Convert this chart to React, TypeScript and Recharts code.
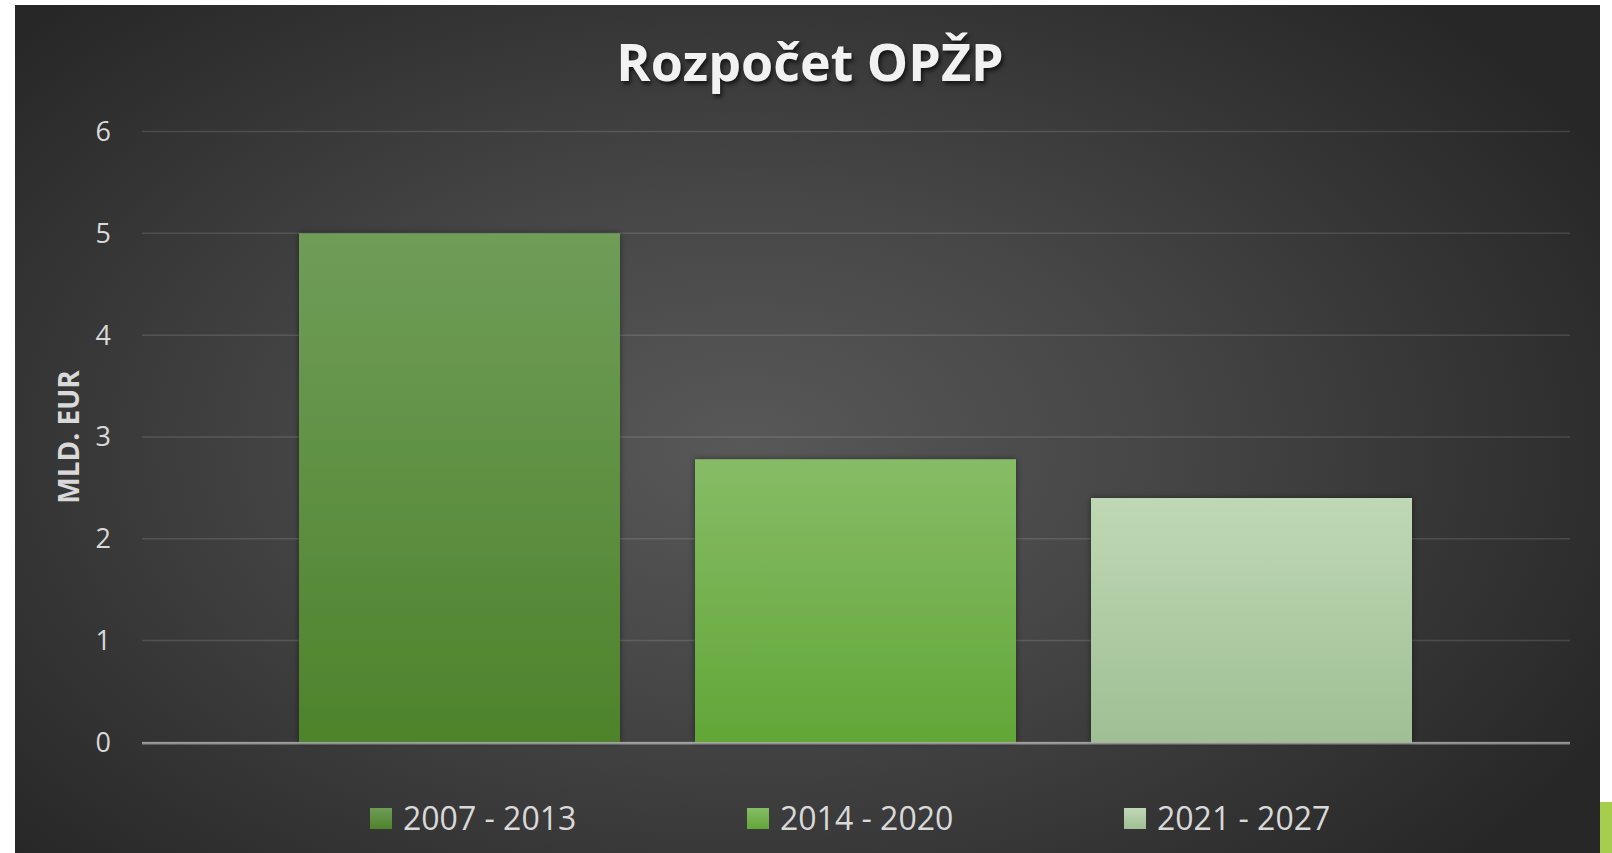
import React from 'react';
import {
  BarChart,
  Bar,
  XAxis,
  YAxis,
  CartesianGrid,
  Legend,
  Label,
  ReferenceLine,
} from 'recharts';

const title = 'Rozpočet OPŽP';
const axisTitle = 'MLD. EUR';
const periods = ['2007 - 2013', '2014 - 2020', '2021 - 2027'];
const budgets = [5, 2.78, 2.4];
const yTicks = [0, 1, 2, 3, 4, 5, 6];
const seriesKeys = ['p1', 'p2', 'p3'];

// top / bottom colour of each bar's gradient
const gradTop = ['#6f9d58', '#86bc66', '#bfd8b4'];
const gradBottom = ['#4e832b', '#62a637', '#9fbf94'];

const row: Record<string, string | number> = { name: 'OPŽP' };
seriesKeys.forEach((k, i) => {
  row[k] = budgets[i];
});
const data = [row];

const font = '"Open Sans", sans-serif';

const LegendContent = () => (
  <div style={{ display: 'flex', alignItems: 'center', fontFamily: font }}>
    {periods.map((p, i) => (
      <div key={p} style={{ display: 'flex', alignItems: 'center', width: 377 }}>
        <div
          style={{
            width: 22,
            height: 21,
            marginRight: 11,
            background: `linear-gradient(${gradTop[i]}, ${gradBottom[i]})`,
          }}
        />
        <span style={{ fontSize: 32, lineHeight: '32px', color: '#d9d9d9' }}>{p}</span>
      </div>
    ))}
  </div>
);

const AxisTitle = (props: any) => {
  const vb = props.viewBox || { x: 0, y: 0, width: 0, height: 0 };
  const cx = vb.x + 8.5;
  const cy = vb.y + vb.height / 2;
  return (
    <text
      x={cx}
      y={cy}
      transform={`rotate(-90, ${cx}, ${cy})`}
      textAnchor="middle"
      dominantBaseline="central"
      fill="#d9d9d9"
      fontFamily={font}
      fontWeight={700}
      fontSize={28}
    >
      {axisTitle}
    </text>
  );
};

export default function App() {
  return (
    <div
      style={{
        position: 'fixed',
        left: 0,
        top: 0,
        width: 1612,
        height: 853,
        background: '#ffffff',
        overflow: 'hidden',
      }}
    >
      <div
        style={{
          position: 'absolute',
          left: 15,
          top: 5,
          width: 1585,
          height: 848,
          background:
            'radial-gradient(ellipse 62% 72% at 46% 52%, #585858 0%, #474747 40%, #343434 75%, #272727 100%)',
        }}
      />
      <div
        style={{
          position: 'absolute',
          left: 1600,
          top: 802,
          width: 12,
          height: 51,
          background: '#a6cd4b',
        }}
      />
      <div
        style={{
          position: 'absolute',
          left: 410,
          top: 35,
          width: 800,
          textAlign: 'center',
          fontFamily: font,
          fontWeight: 700,
          fontSize: 52,
          lineHeight: '52px',
          color: '#f2f2f2',
          textShadow: '2px 3px 4px rgba(0,0,0,0.65)',
        }}
      >
        {title}
      </div>
      <div style={{ position: 'absolute', left: 0, top: 0 }}>
        <BarChart
          width={1612}
          height={853}
          data={data}
          margin={{ top: 131.6, right: 42, bottom: 110.8, left: 60 }}
          barCategoryGap={157}
          barGap={75}
        >
          <defs>
            {seriesKeys.map((k, i) => (
              <linearGradient key={k} id={`grad-${k}`} x1="0" y1="0" x2="0" y2="1">
                <stop offset="0%" stopColor={gradTop[i]} />
                <stop offset="100%" stopColor={gradBottom[i]} />
              </linearGradient>
            ))}
            <filter id="barShadow" x="-5%" y="-5%" width="110%" height="110%">
              <feDropShadow dx="0" dy="0" stdDeviation="3" floodColor="#000" floodOpacity="0.45" />
            </filter>
          </defs>
          <CartesianGrid
            horizontal
            vertical={false}
            stroke="rgba(255,255,255,0.13)"
            strokeWidth={1.5}
          />
          <XAxis
            dataKey="name"
            height={0}
            tick={false}
            tickLine={false}
            axisLine={false}
          />
          <YAxis
            width={82}
            domain={[0, 6]}
            ticks={yTicks}
            axisLine={false}
            tickLine={false}
            tickSize={0}
            tickMargin={31}
            tick={{ fill: '#d9d9d9', fontSize: 27, fontFamily: font }}
          >
            <Label content={<AxisTitle />} />
          </YAxis>
          {seriesKeys.map((k, i) => (
            <Bar
              key={k}
              dataKey={k}
              name={periods[i]}
              fill={`url(#grad-${k})`}
              filter="url(#barShadow)"
              isAnimationActive={false}
            />
          ))}
          <ReferenceLine
            y={0}
            stroke="rgba(255,255,255,0.45)"
            strokeWidth={2.5}
            transform="translate(0, 1)"
          />
          <Legend
            layout="horizontal"
            verticalAlign="middle"
            align="center"
            content={<LegendContent />}
            wrapperStyle={{ left: 370, top: 802, width: 1200, height: 32 }}
          />
        </BarChart>
      </div>
    </div>
  );
}
